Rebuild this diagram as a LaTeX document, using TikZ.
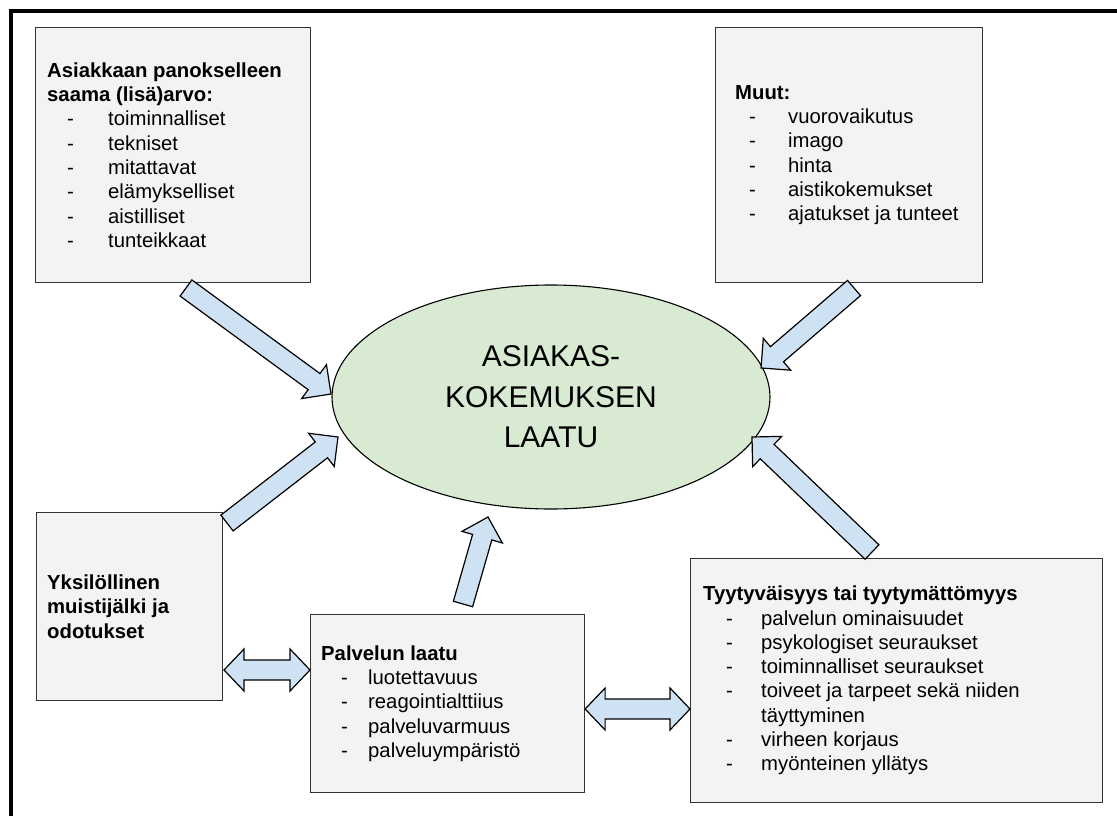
\documentclass[tikz,border=0pt]{standalone}
\usepackage{fontspec}
\setmainfont{Liberation Sans}
\usetikzlibrary{calc,shapes.geometric}

\definecolor{boxfill}{HTML}{F3F3F3}
\definecolor{boxline}{HTML}{333333}
\definecolor{ovalfill}{HTML}{D9EAD3}
\definecolor{arrowfill}{HTML}{CFE2F3}

% list line: dash at #1pt, text at #2pt from the left margin
\newcommand\dashitem[3]{\makebox[#2pt][l]{\hspace*{#1pt}-}#3}

% block arrow from tail coordinate #1 to tip coordinate #2
\newcommand\blockarrow[2]{%
  \draw[barrow] let \p1=($(#2)-(#1)$), \n1={atan2(\y1,\x1)}, \n2={veclen(\x1,\y1)} in
    [shift={(#1)}, rotate=\n1]
    (0pt,-10pt) -- (\n2-21pt,-10pt) -- (\n2-21pt,-21pt) -- (\n2,0pt)
    -- (\n2-21pt,21pt) -- (\n2-21pt,10pt) -- (0pt,10pt) -- cycle;}

% double-headed block arrow between coordinates #1 and #2
\newcommand\doublearrow[2]{%
  \draw[barrow] let \p1=($(#2)-(#1)$), \n1={atan2(\y1,\x1)}, \n2={veclen(\x1,\y1)} in
    [shift={(#1)}, rotate=\n1]
    (0pt,0pt) -- (20pt,21pt) -- (20pt,10pt) -- (\n2-20pt,10pt) -- (\n2-20pt,21pt)
    -- (\n2,0pt) -- (\n2-20pt,-21pt) -- (\n2-20pt,-10pt) -- (20pt,-10pt)
    -- (20pt,-21pt) -- cycle;}

\tikzset{
  box/.style={draw=boxline, line width=1.1pt, fill=boxfill, anchor=north west,
    inner sep=0pt},
  txt/.style={anchor=west, align=left, inner sep=0pt,
    font=\fontsize{20.3}{24.3}\selectfont},
  oval/.style={ellipse, draw=black, line width=1.1pt, fill=ovalfill, inner sep=0pt,
    align=center, font=\fontsize{30}{40.5}\selectfont},
  barrow/.style={draw=black, line width=1.2pt, fill=arrowfill, line join=miter},
  frame/.style={draw=black, line width=3.5pt}
}

\begin{document}
\begin{tikzpicture}[x=1pt, y=-1pt]
\useasboundingbox (0,0) rectangle (1117,816);
\fill[white] (0,0) rectangle (1117,816);

% outer frame (open to the right and bottom)
\draw[frame] (11,820) -- (11,11) -- (1121,11);

% boxes
\node[box, minimum width=275pt, minimum height=255pt] (b1) at (35,27) {};
\node[box, minimum width=267pt, minimum height=255pt] (b2) at (715,27) {};
\node[box, minimum width=186pt, minimum height=188pt] (b3) at (36,512) {};
\node[box, minimum width=274pt, minimum height=178pt] (b4) at (310,614) {};
\node[box, minimum width=412pt, minimum height=244pt] (b5) at (690,558) {};

% central ellipse
\node[oval, minimum width=438pt, minimum height=224pt] (e) at (551,397)
  {ASIAKAS-\\KOKEMUKSEN\\LAATU};

% box texts
\node[txt] (t1) at ($(b1.west)+(12,0)$) {%
  \textbf{Asiakkaan panokselleen}\\
  \textbf{saama (lisä)arvo:}\\
  \dashitem{20}{61}{toiminnalliset}\\
  \dashitem{20}{61}{tekniset}\\
  \dashitem{20}{61}{mitattavat}\\
  \dashitem{20}{61}{elämykselliset}\\
  \dashitem{20}{61}{aistilliset}\\
  \dashitem{20}{61}{tunteikkaat}};

\node[txt] (t2) at ($(b2.west)+(20,0)$) {%
  \textbf{Muut:}\\
  \dashitem{14}{53}{vuorovaikutus}\\
  \dashitem{14}{53}{imago}\\
  \dashitem{14}{53}{hinta}\\
  \dashitem{14}{53}{aistikokemukset}\\
  \dashitem{14}{53}{ajatukset ja tunteet}};

\node[txt] (t3) at ($(b3.west)+(11,0)$) {%
  \textbf{Yksilöllinen}\\
  \textbf{muistijälki ja}\\
  \textbf{odotukset}};

\node[txt] (t4) at ($(b4.west)+(11,0)$) {%
  \textbf{Palvelun laatu}\\
  \dashitem{20}{47}{luotettavuus}\\
  \dashitem{20}{47}{reagointialttiius}\\
  \dashitem{20}{47}{palveluvarmuus}\\
  \dashitem{20}{47}{palveluympäristö}};

\node[txt] (t5) at ($(b5.west)+(13,0)$) {%
  \textbf{Tyytyväisyys tai tyytymättömyys}\\
  \dashitem{23}{58}{palvelun ominaisuudet}\\
  \dashitem{23}{58}{psykologiset seuraukset}\\
  \dashitem{23}{58}{toiminnalliset seuraukset}\\
  \dashitem{23}{58}{toiveet ja tarpeet sekä niiden}\\
  \hspace*{58pt}täyttyminen\\
  \dashitem{23}{58}{virheen korjaus}\\
  \dashitem{23}{58}{myönteinen yllätys}};

% arrow end points
\coordinate (a1s) at (186,288);  \coordinate (a1e) at (331,394);
\coordinate (a2s) at (854,288);  \coordinate (a2e) at (761,368);
\coordinate (a3s) at (227,523);  \coordinate (a3e) at (338,437);
\coordinate (a4s) at (463,604);  \coordinate (a4e) at (488,517);
\coordinate (a5s) at (872,552);  \coordinate (a5e) at (752,437);
\coordinate (d1s) at (224,670);  \coordinate (d1e) at (b4.west |- 0,670);
\coordinate (d2s) at (b4.east |- 0,709);  \coordinate (d2e) at (b5.west |- 0,709);

% arrows into the ellipse
\blockarrow{a1s}{a1e}
\blockarrow{a2s}{a2e}
\blockarrow{a3s}{a3e}
\blockarrow{a4s}{a4e}
\blockarrow{a5s}{a5e}

% two-way arrows between the lower boxes
\doublearrow{d1s}{d1e}
\doublearrow{d2s}{d2e}
\end{tikzpicture}
\end{document}
